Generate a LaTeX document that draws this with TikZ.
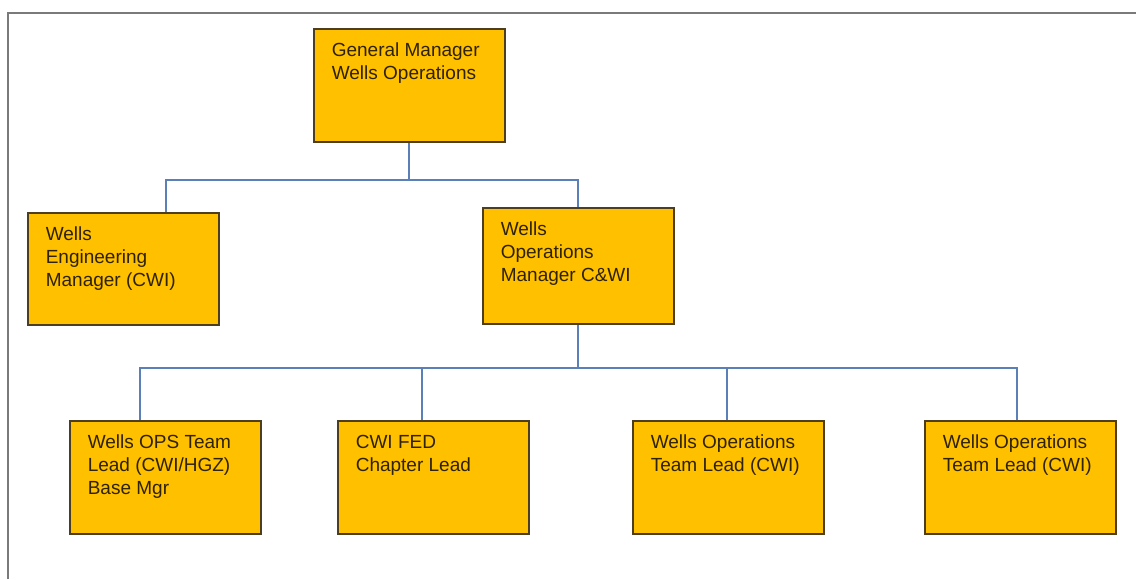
\documentclass[tikz,border=0pt]{standalone}
\usepackage{fontspec}
\setmainfont{Liberation Sans}
\usetikzlibrary{calc}
\definecolor{boxfill}{HTML}{FFC000}
\definecolor{boxline}{HTML}{4E3E20}
\definecolor{txtcol}{HTML}{2E2200}
\definecolor{conncol}{HTML}{5B80B8}
\definecolor{framecol}{HTML}{7A7A7A}
\newcommand\orgtext[2][85pt]{\parbox[t][#1][t]{155pt}{\raggedright #2}}
\begin{document}
\begin{tikzpicture}[x=1pt,y=-1pt,
  orgbox/.style={draw=boxline, line width=1.6pt, fill=boxfill, anchor=north west,
    inner xsep=18pt, inner ysep=14pt, text=txtcol, font=\fontsize{19}{23}\selectfont},
  link/.style={draw=conncol, line width=2pt, line join=miter}]
\useasboundingbox (0,0) rectangle (1136,579);
\draw[framecol, line width=2.5pt] (8,579) -- (8,13) -- (1136,13);

\node[orgbox] (gm)  at (313,28)  {\orgtext{General Manager\\Wells Operations}};
\node[orgbox] (wem) at (27,212)  {\orgtext[84pt]{Wells\\Engineering\\Manager (CWI)}};
\node[orgbox] (wom) at (482,207) {\orgtext[88pt]{Wells\\Operations\\Manager C\&WI}};

\node[orgbox] (b1) at (69,420)  {\orgtext{Wells OPS Team\\Lead (CWI/HGZ)\\Base Mgr}};
\node[orgbox] (b2) at (337,420) {\orgtext{CWI FED\\Chapter Lead}};
\node[orgbox] (b3) at (632,420) {\orgtext{Wells Operations\\Team Lead (CWI)}};
\node[orgbox] (b4) at (924,420) {\orgtext{Wells Operations\\Team Lead (CWI)}};

\draw[link] (gm.south) -- ++(0,37) coordinate (j1);
\coordinate (wemc) at ($(wem.north west)+(139,0)$);
\draw[link] (wemc) |- (j1) -| (wom.north);

\draw[link] (wom.south) -- ++(0,43) coordinate (j2);
\coordinate (b1c) at ($(b1.north west)+(71,0)$);
\coordinate (b2c) at ($(b2.north west)+(85,0)$);
\coordinate (b3c) at ($(b3.north west)+(95,0)$);
\coordinate (b4c) at ($(b4.north west)+(93,0)$);
\draw[link] (b1c) |- (j2) -| (b4c);
\draw[link] (b2c) -- (b2c |- j2);
\draw[link] (b3c) -- (b3c |- j2);
\end{tikzpicture}
\end{document}
